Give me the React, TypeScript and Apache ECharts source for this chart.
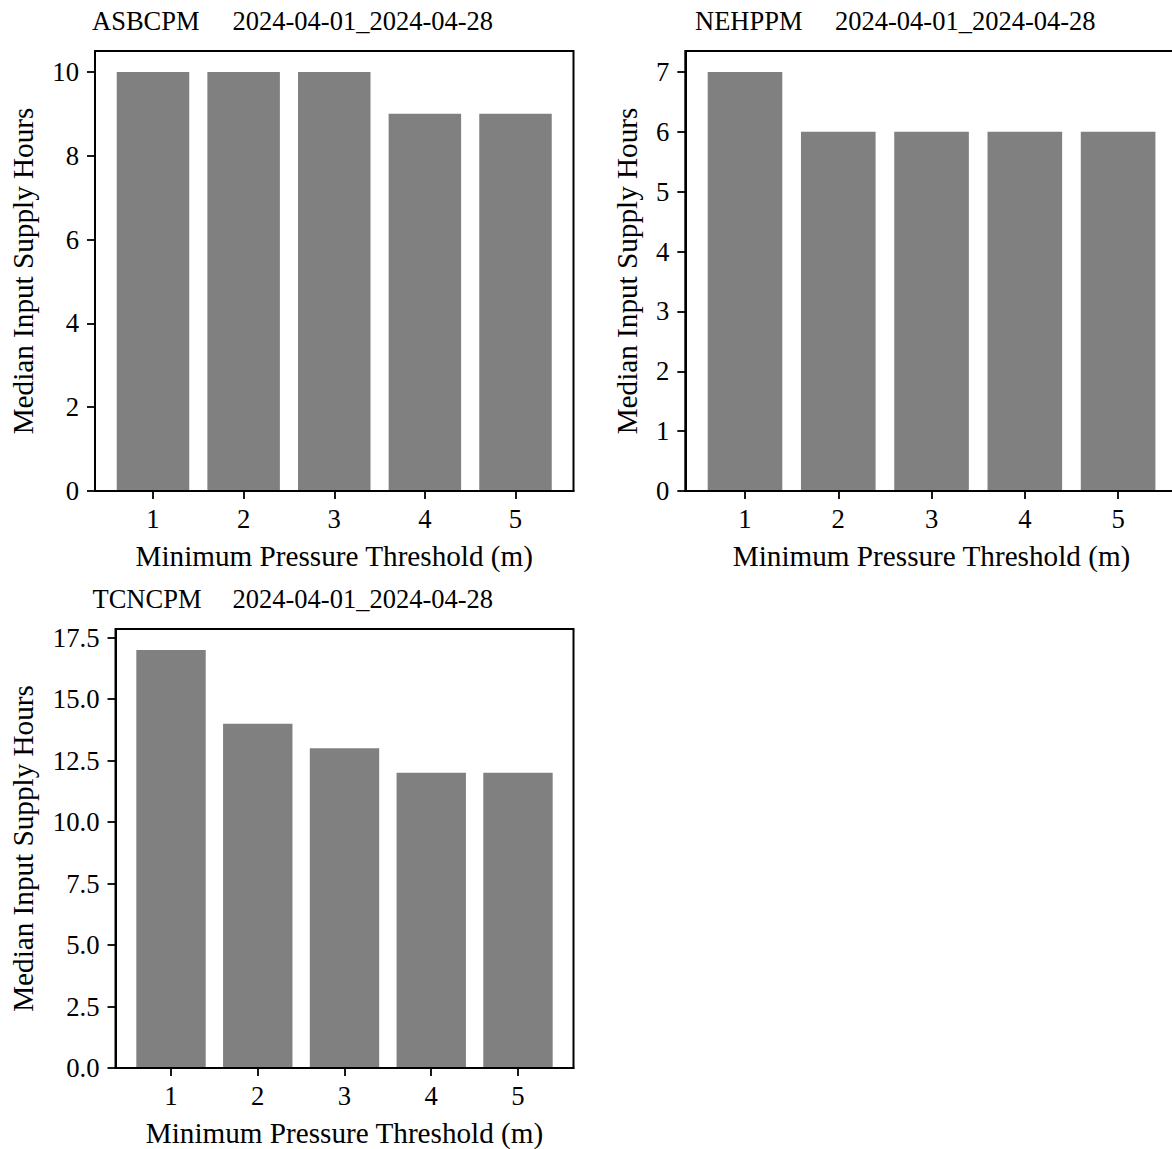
import React, { useEffect, useRef } from "react";
import * as echarts from "echarts";

// Minimum pressure thresholds (m) on the x axis of every panel
const thresholds = [1, 2, 3, 4, 5];

// Median input supply hours per station
const asbcpmHours = [10, 10, 10, 9, 9];
const nehppmHours = [7, 6, 6, 6, 6];
const tcncpmHours = [17, 14, 13, 12, 12];

// Y tick values per station
const asbcpmTicks = [0, 2, 4, 6, 8, 10];
const nehppmTicks = [0, 1, 2, 3, 4, 5, 6, 7];
const tcncpmTicks = [0, 2.5, 5, 7.5, 10, 12.5, 15, 17.5];

const dateRange = "2024-04-01_2024-04-28";
const xLabel = "Minimum Pressure Threshold (m)";
const yLabel = "Median Input Supply Hours";

const FONT = '"Liberation Serif", "Times New Roman", serif';
const TICK_SIZE = 26.7;
const LABEL_SIZE = 29.2;
const TITLE_SIZE = 26.5;
const BAR_FRACTION = 0.8;
const X_MIN = 0.36;
const X_MAX = 5.64;

// The canvas is a little wider than the visible page so the right-hand
// panel's frame runs past the page edge.
const PAGE_W = 1172;
const PAGE_H = 1149;
const CANVAS_W = 1190;

type Panel = {
  station: string;
  values: number[];
  ticks: number[];
  yMax: number;
  decimals: number;
  left: number;
  top: number;
  width: number;
  height: number;
  yNameGap: number;
  stationX: number;
  dateX: number;
  titleY: number;
};

const panels: Panel[] = [
  {
    station: "ASBCPM",
    values: asbcpmHours,
    ticks: asbcpmTicks,
    yMax: 10.5,
    decimals: 0,
    left: 95,
    top: 51,
    width: 478.5,
    height: 440,
    yNameGap: 72.5,
    stationX: 92,
    dateX: 232.5,
    titleY: 20.5,
  },
  {
    station: "NEHPPM",
    values: nehppmHours,
    ticks: nehppmTicks,
    yMax: 7.35,
    decimals: 0,
    left: 685.3,
    top: 51,
    width: 492.5,
    height: 440,
    yNameGap: 58.5,
    stationX: 695,
    dateX: 835,
    titleY: 20.5,
  },
  {
    station: "TCNCPM",
    values: tcncpmHours,
    ticks: tcncpmTicks,
    yMax: 17.85,
    decimals: 1,
    left: 115.5,
    top: 629,
    width: 458,
    height: 439,
    yNameGap: 93,
    stationX: 92.5,
    dateX: 232.5,
    titleY: 598.5,
  },
];

export default function App() {
  const ref = useRef<HTMLDivElement>(null);

  useEffect(() => {
    if (!ref.current) return;
    const chart = echarts.init(ref.current, undefined, { renderer: "svg" });

    const black = "#000000";

    const option: any = {
      animation: false,
      backgroundColor: "#ffffff",
      grid: panels.map((p) => ({
        left: p.left,
        top: p.top,
        width: p.width,
        height: p.height,
        show: true,
        borderColor: black,
        borderWidth: 2,
        backgroundColor: "transparent",
        containLabel: false,
      })),
      xAxis: panels.map((p, i) => ({
        gridIndex: i,
        type: "value",
        min: X_MIN,
        max: X_MAX,
        z: 5,
        splitLine: { show: false },
        axisLine: { show: true, onZero: false, lineStyle: { color: black, width: 2 } },
        axisTick: {
          show: true,
          length: 8,
          customValues: thresholds,
          lineStyle: { color: black, width: 1.8 },
        },
        axisLabel: {
          customValues: thresholds,
          margin: 14,
          fontSize: TICK_SIZE,
          fontFamily: FONT,
          color: black,
        },
        name: xLabel,
        nameLocation: "middle",
        nameGap: 65,
        nameTextStyle: {
          fontSize: LABEL_SIZE,
          fontFamily: FONT,
          color: black,
          verticalAlign: "middle",
        },
      })),
      yAxis: panels.map((p, i) => ({
        gridIndex: i,
        type: "value",
        min: 0,
        max: p.yMax,
        z: 5,
        splitLine: { show: false },
        axisLine: { show: true, onZero: false, lineStyle: { color: black, width: 2 } },
        axisTick: {
          show: true,
          length: 8,
          customValues: p.ticks,
          lineStyle: { color: black, width: 1.8 },
        },
        axisLabel: {
          customValues: p.ticks,
          margin: 16,
          fontSize: TICK_SIZE,
          fontFamily: FONT,
          color: black,
          formatter: (v: number) => v.toFixed(p.decimals),
        },
        name: yLabel,
        nameLocation: "middle",
        nameRotate: 90,
        nameGap: p.yNameGap,
        nameTextStyle: {
          fontSize: LABEL_SIZE,
          fontFamily: FONT,
          color: black,
          verticalAlign: "middle",
        },
      })),
      series: panels.map((p, i) => ({
        type: "bar",
        xAxisIndex: i,
        yAxisIndex: i,
        barWidth: (BAR_FRACTION * p.width) / (X_MAX - X_MIN),
        itemStyle: { color: "#808080" },
        data: thresholds.map((t, k) => [t, p.values[k]]),
      })),
      graphic: panels.flatMap((p) => [
        {
          type: "text",
          x: p.stationX,
          y: p.titleY,
          style: {
            text: p.station,
            font: `${TITLE_SIZE}px ${FONT}`,
            fill: black,
            align: "left",
            verticalAlign: "middle",
          },
        },
        {
          type: "text",
          x: p.dateX,
          y: p.titleY,
          style: {
            text: dateRange,
            font: `${TITLE_SIZE}px ${FONT}`,
            fill: black,
            align: "left",
            verticalAlign: "middle",
          },
        },
      ]),
    };

    chart.setOption(option);
    return () => chart.dispose();
  }, []);

  return (
    <div
      style={{
        position: "absolute",
        left: 0,
        top: 0,
        width: PAGE_W,
        height: PAGE_H,
        overflow: "hidden",
        background: "#ffffff",
      }}
    >
      <div ref={ref} style={{ width: CANVAS_W, height: PAGE_H }} />
    </div>
  );
}
